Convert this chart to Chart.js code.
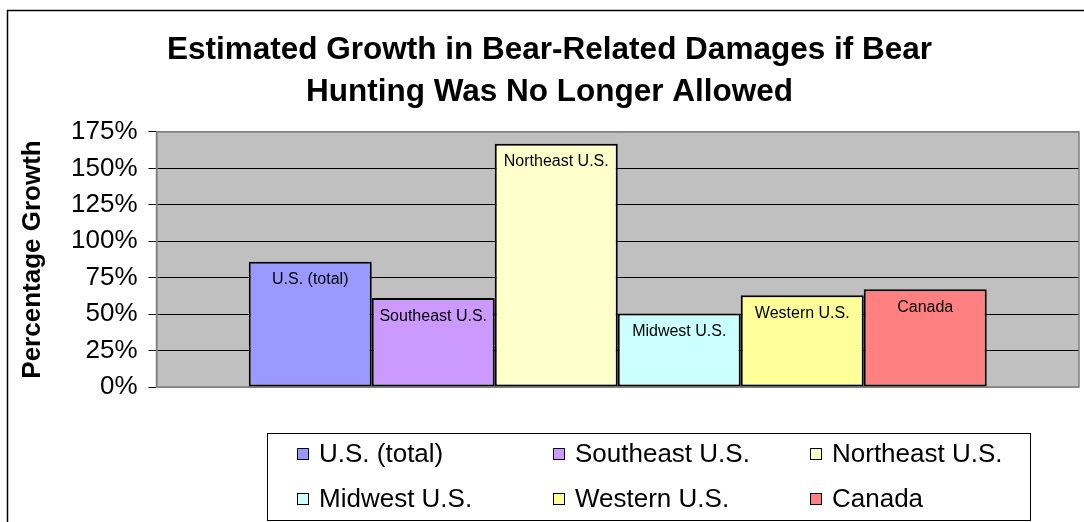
<!DOCTYPE html>
<html>
<head>
<meta charset="utf-8">
<title>Bear damages growth</title>
<script src="https://cdn.jsdelivr.net/npm/chart.js@4.4.1/dist/chart.umd.min.js"></script>
<style>
  html, body { margin: 0; padding: 0; background: #fff; }
  #wrap { position: relative; width: 1084px; height: 522px; }
</style>
</head>
<body>
<div id="wrap"><canvas id="growthChart"></canvas></div>
<script>
// data
const regions = ['U.S. (total)', 'Southeast U.S.', 'Northeast U.S.', 'Midwest U.S.', 'Western U.S.', 'Canada'];
const growthPct = [86, 61, 167, 50.5, 63, 67];
const regionColors = ['#9999FF', '#CC99FF', '#FFFFCC', '#CCFFFF', '#FFFF99', '#FF8080'];
const yTicks = [0, 25, 50, 75, 100, 125, 150, 175];
const titleLines = ['Estimated Growth in Bear-Related Damages if Bear', 'Hunting Was No Longer Allowed'];

const FONT = "'Liberation Sans', Arial, sans-serif";

// grey plot background + outer chart frame
const backdrop = {
  id: 'backdrop',
  beforeDraw(chart) {
    const { ctx, chartArea: a } = chart;
    ctx.save();
    ctx.fillStyle = '#fff';
    ctx.fillRect(0, 0, chart.width, chart.height);
    ctx.strokeStyle = '#000';
    ctx.lineWidth = 1.5;
    ctx.strokeRect(7.5, 10.5, chart.width + 20, chart.height + 20);
    ctx.fillStyle = '#C0C0C0';
    ctx.fillRect(a.left, a.top, a.right - a.left, a.bottom - a.top);
    ctx.restore();
  },
  beforeDatasetsDraw(chart) {
    const { ctx, chartArea: a } = chart;
    ctx.save();
    ctx.strokeStyle = '#808080';
    ctx.lineWidth = 1.5;
    ctx.strokeRect(a.left, a.top, a.right - a.left, a.bottom - a.top);
    ctx.restore();
  }
};

// region name written inside the top of every bar
const barNames = {
  id: 'barNames',
  afterDatasetsDraw(chart) {
    const ctx = chart.ctx;
    ctx.save();
    ctx.font = '16px ' + FONT;
    ctx.fillStyle = '#000';
    ctx.textAlign = 'center';
    ctx.textBaseline = 'middle';
    chart.data.datasets.forEach((ds, i) => {
      const bar = chart.getDatasetMeta(i).data[0];
      ctx.fillText(ds.label, bar.x, bar.y + 18);
    });
    ctx.restore();
  }
};

// boxed legend, 3 columns x 2 rows
const boxLegend = {
  id: 'boxLegend',
  afterDraw(chart) {
    const ctx = chart.ctx;
    const colX = [297, 553, 810];
    const rowY = [454, 499];
    ctx.save();
    ctx.fillStyle = '#fff';
    ctx.fillRect(267, 433, 764, 87);
    ctx.strokeStyle = '#000';
    ctx.lineWidth = 1;
    ctx.strokeRect(267.5, 433.5, 763, 87);
    ctx.font = '26px ' + FONT;
    ctx.textBaseline = 'middle';
    chart.data.datasets.forEach((ds, i) => {
      const x = colX[i % 3];
      const y = rowY[Math.floor(i / 3)];
      ctx.fillStyle = ds.backgroundColor;
      ctx.fillRect(x, y - 6, 12, 12);
      ctx.strokeStyle = '#000';
      ctx.strokeRect(x + 0.5, y - 5.5, 11, 11);
      ctx.fillStyle = '#000';
      ctx.fillText(ds.label, x + 22, y + 1);
    });
    ctx.restore();
  }
};

const datasets = regions.map((name, i) => ({
  label: name,
  data: [growthPct[i]],
  backgroundColor: regionColors[i],
  borderColor: '#000',
  borderWidth: 2,
  borderSkipped: false,
  categoryPercentage: 0.8,
  barPercentage: 1.0
}));

const ctx = document.getElementById('growthChart').getContext('2d');
new Chart(ctx, {
  type: 'bar',
  data: { labels: [''], datasets: datasets },
  options: {
    responsive: true,
    maintainAspectRatio: false,
    animation: false,
    layout: { padding: { left: 20, right: 5, top: 0, bottom: 135 } },
    plugins: {
      legend: { display: false },
      tooltip: { enabled: false },
      title: {
        display: true,
        text: titleLines,
        color: '#000',
        font: { family: FONT, size: 31.5, weight: 'bold', lineHeight: 1.333 },
        padding: { top: 29, bottom: 19 }
      }
    },
    scales: {
      x: { display: false },
      y: {
        min: 0,
        max: 175,
        afterBuildTicks: axis => { axis.ticks = yTicks.map(v => ({ value: v })); },
        ticks: {
          color: '#000',
          padding: 11,
          font: { family: FONT, size: 26 },
          callback: v => v + '%'
        },
        grid: {
          color: c => (c.tick && (c.tick.value === 0 || c.tick.value === 175)) ? '#808080' : '#000',
          lineWidth: 1,
          tickLength: 8,
          tickColor: '#000'
        },
        border: { color: '#808080', width: 1.5 },
        title: {
          display: true,
          text: 'Percentage Growth',
          color: '#000',
          font: { family: FONT, size: 26, weight: 'bold', lineHeight: 1.0 },
          padding: { top: 0, bottom: 14 }
        }
      }
    }
  },
  plugins: [backdrop, barNames, boxLegend]
});
</script>
</body>
</html>
